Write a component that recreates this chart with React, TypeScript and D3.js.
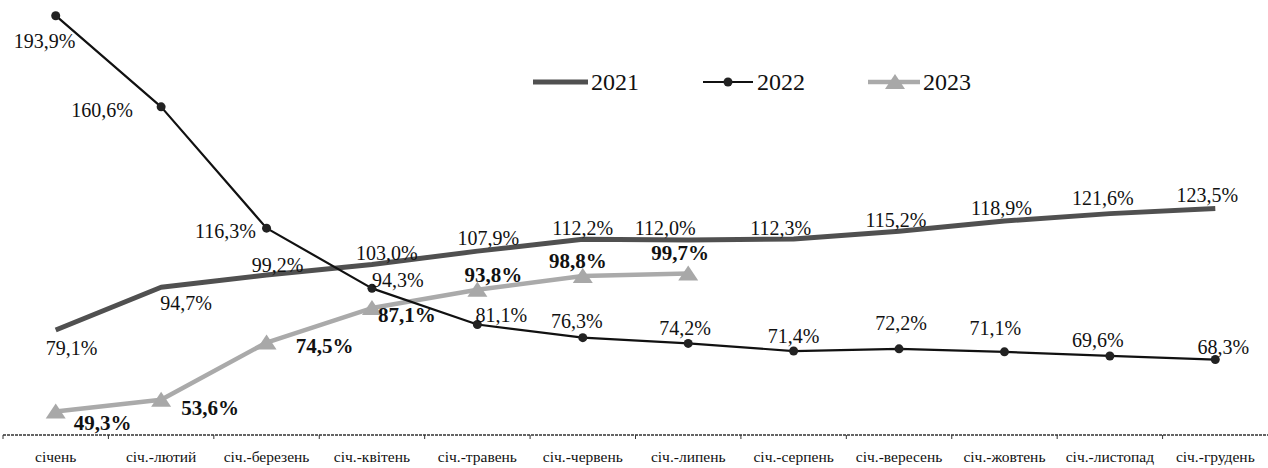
import React from 'react';
import * as d3 from 'd3';

const categories = [
  'січень', 'січ.-лютий', 'січ.-березень', 'січ.-квітень', 'січ.-травень', 'січ.-червень',
  'січ.-липень', 'січ.-серпень', 'січ.-вересень', 'січ.-жовтень', 'січ.-листопад', 'січ.-грудень',
];
const values2021 = [79.1, 94.7, 99.2, 103.0, 107.9, 112.2, 112.0, 112.3, 115.2, 118.9, 121.6, 123.5];
const values2022 = [193.9, 160.6, 116.3, 94.3, 81.1, 76.3, 74.2, 71.4, 72.2, 71.1, 69.6, 68.3];
const values2023 = [49.3, 53.6, 74.5, 87.1, 93.8, 98.8, 99.7];
const seriesNames = ['2021', '2022', '2023'];

// label nudges (dx, dy from the point, text centred)
const shift2021 = [[16, 25], [25, 23], [11, -3], [15, -5], [11, -6], [0, -4], [-23, -5], [-13, -4], [-3, -4], [-3, -6], [-7, -9], [-8, -6]];
const shift2022 = [[-11, 32], [-59, 10], [-41, 10], [26, -1], [24, -2], [-6, -10], [-3, -8], [0, -8], [2, -19], [-9, -17], [-12, -9], [8, -6]];
const shift2023 = [[47, 18], [49, 15], [58, 10], [35, 14], [16, -8], [-5, -8], [-8, -14]];

const W = 1268;
const H = 468;
const fmt = (v: number) => v.toFixed(1).replace('.', ',') + '%';
const serif = "'Liberation Serif', 'Times New Roman', Tinos, 'DejaVu Serif', 'Noto Serif', serif";

const tri = (x: number, y: number) => `M${x - 10},${y + 7}L${x},${y - 8}L${x + 10},${y + 7}Z`;

export default function App() {
  const xBand = d3.scaleBand<string>().domain(categories).range([3, W]).padding(0);
  const bw = xBand.bandwidth();
  const x = (i: number) => (xBand(categories[i]) as number) + bw / 2;
  const y = d3.scaleLinear().domain([40, 200]).range([437, -1]);
  const axisY = 435;

  const line = d3.line<number>().x((_, i) => x(i)).y(d => y(d));

  return (
    <svg width={W} height={H} style={{ position: 'absolute', left: 0, top: 0, background: '#fff', fontFamily: serif }}>
      <rect width={W} height={H} fill="#fff" />

      {/* x axis */}
      <line x1={3} x2={W} y1={axisY} y2={axisY} stroke="#333" strokeWidth={1.3} strokeDasharray="3,1" />
      {categories.map((c, i) => (
        <line key={'t' + i} x1={xBand(c)} x2={xBand(c)} y1={axisY} y2={axisY + 4} stroke="#333" strokeWidth={1} />
      ))}
      {categories.map((c, i) => (
        <text key={'c' + i} x={x(i)} y={462} textAnchor="middle" fontSize={15.5} fill="#111"
          fontWeight={500}>{c}</text>
      ))}

      {/* 2021 */}
      <path d={line(values2021) as string} fill="none" stroke="#505050" strokeWidth={5} strokeLinejoin="round" />
      {/* 2023 */}
      <path d={line(values2023) as string} fill="none" stroke="#aaaaaa" strokeWidth={4.5} strokeLinejoin="round" />
      {values2023.map((v, i) => (
        <path key={'m3' + i} d={tri(x(i), y(v))} fill="#a8a8a8" />
      ))}
      {/* 2022 */}
      <path d={line(values2022) as string} fill="none" stroke="#111" strokeWidth={2.2} strokeLinejoin="round" />
      {values2022.map((v, i) => (
        <circle key={'m2' + i} cx={x(i)} cy={y(v)} r={4.5} fill="#222" />
      ))}

      {/* labels */}
      {values2021.map((v, i) => (
        <text key={'l1' + i} x={x(i) + shift2021[i][0]} y={y(v) + shift2021[i][1]} textAnchor="middle"
          fontSize={20} fill="#111">{fmt(v)}</text>
      ))}
      {values2022.map((v, i) => (
        <text key={'l2' + i} x={x(i) + shift2022[i][0]} y={y(v) + shift2022[i][1]} textAnchor="middle"
          fontSize={20} fill="#111">{fmt(v)}</text>
      ))}
      {values2023.map((v, i) => (
        <text key={'l3' + i} x={x(i) + shift2023[i][0]} y={y(v) + shift2023[i][1]} textAnchor="middle"
          fontSize={21} fontWeight="bold" fill="#111">{fmt(v)}</text>
      ))}

      {/* legend */}
      <g>
        <line x1={533} x2={588} y1={82} y2={82} stroke="#505050" strokeWidth={5} />
        <text x={591} y={90} fontSize={24} fill="#111">{seriesNames[0]}</text>
        <line x1={703} x2={753} y1={82} y2={82} stroke="#111" strokeWidth={2.2} />
        <circle cx={728} cy={82} r={4.5} fill="#222" />
        <text x={757} y={90} fontSize={24} fill="#111">{seriesNames[1]}</text>
        <line x1={868} x2={920} y1={82} y2={82} stroke="#aaaaaa" strokeWidth={4.5} />
        <path d={tri(895, 82)} fill="#a8a8a8" />
        <text x={923} y={90} fontSize={24} fill="#111">{seriesNames[2]}</text>
      </g>
    </svg>
  );
}
